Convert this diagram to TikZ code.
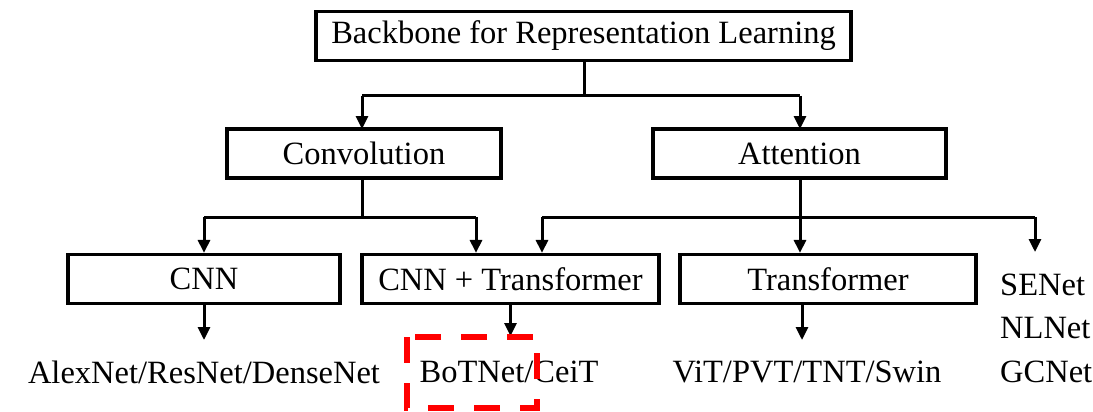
\documentclass[tikz,border=0pt]{standalone}
\usepackage{fontspec}
\setmainfont{Liberation Serif}
\usetikzlibrary{arrows.meta}
\begin{document}
\begin{tikzpicture}[x=1pt,y=-1pt,
  every node/.style={font=\fontsize{32.5}{38}\selectfont, inner sep=0pt},
  box/.style={draw, line width=3.2pt, minimum height=49pt},
  lbl/.style={anchor=center},
  conn/.style={line width=3pt},
  arr/.style={conn, -{Triangle[length=13pt,width=12pt]}},
  hl/.style={draw=red, line width=6.5pt, dash pattern=on 26pt off 20pt}]
\useasboundingbox (0,0) rectangle (1093,412);
\node[box, minimum width=535pt] (top) at (583.5,36) {Backbone for Representation Learning};
\node[box, minimum width=274pt] (conv) at (364,153.5) {Convolution};
\node[box, minimum width=293pt] (att) at (799.5,153.5) {Attention};
\node[box, minimum width=272pt] (cnn) at (204,279) {CNN};
\node[box, minimum width=297pt] (cnnt) at (510.5,279) {CNN + Transformer};
\node[box, minimum width=296pt] (trans) at (828,279) {Transformer};
\node[lbl] (alex) at (204,372) {AlexNet/ResNet/DenseNet};
\node[lbl] (bot) at (509,372) {BoTNet/CeiT};
\node[lbl] (vit) at (807,372) {ViT/PVT/TNT/Swin};
\node[anchor=west] (se) at (1000,285) {SENet};
\node[anchor=west] (nl) at (1000,328) {NLNet};
\node[anchor=west] (gc) at (1000,372) {GCNet};
% top to level 2
\coordinate (j1) at (584,96);
\draw[conn] (top.south -| j1) -- (j1);
\draw[arr] (362,96) -- (362,129);
\draw[arr] (800,96) -- (800,129);
\draw[conn] (362,96) -- (800,96);
% convolution
\draw[conn] (362,178) -- (362,217);
\draw[conn] (204,217) -- (476,217);
\draw[arr] (204,217) -- (cnn.north -| 204,0);
\draw[arr] (476,217) -- (cnnt.north -| 476,0);
% attention
\draw[conn] (800,178) -- (800,217);
\draw[conn] (542,217) -- (1035,217);
\draw[arr] (542,217) -- (cnnt.north -| 542,0);
\draw[arr] (800,217) -- (trans.north -| 800,0);
\draw[arr] (1035,217) -- (1035,252);
% outputs
\draw[arr] (cnn.south) -- (204,340);
\draw[arr] (cnnt.south) -- (510.5,336);
\draw[arr] (802,304) -- (802,340);
% highlight
\draw[hl] (407,337) rectangle (537,408);
\end{tikzpicture}
\end{document}
